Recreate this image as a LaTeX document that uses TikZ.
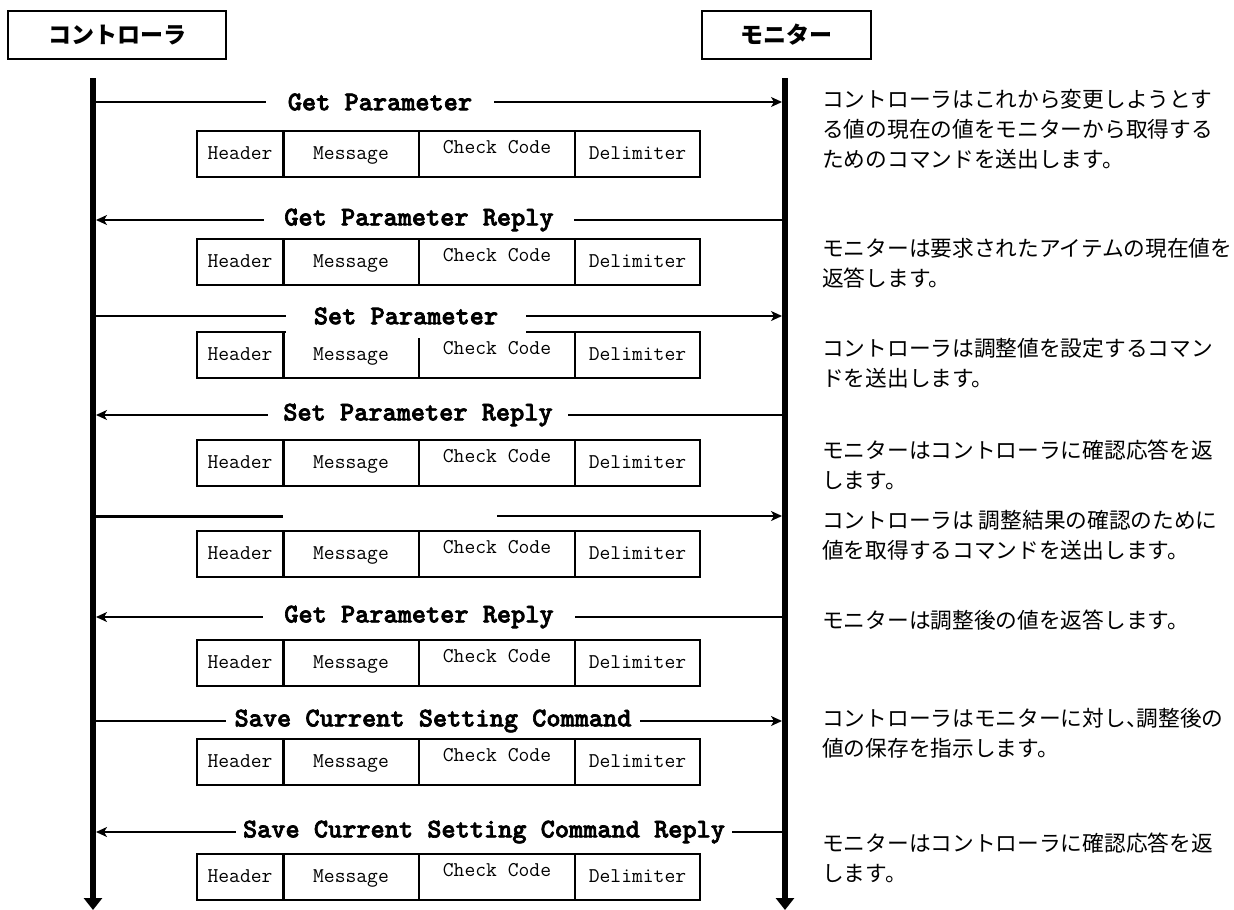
\documentclass[tikz,border=0pt]{standalone}
\usepackage{fontspec}
\newfontfamily\jpfont{Noto Sans CJK JP}
\newfontfamily\lblfont{lmmonolt10-bold.otf}[FakeBold=2.5]
\usetikzlibrary{arrows.meta}
\begin{document}
\begin{tikzpicture}[x=1pt,y=-1pt,
  actorbox/.style={draw,line width=1.5pt,minimum height=48pt,inner sep=0pt,
    font=\jpfont\bfseries\fontsize{23}{26}\selectfont},
  life/.style={line width=6pt,-{Triangle[length=12pt,width=18pt]}},
  msg/.style={line width=1.5pt,-{Stealth[length=11pt,width=10pt,inset=3pt]}},
  msgplain/.style={line width=1.5pt},
  msgthick/.style={line width=3pt},
  lbl/.style={fill=white,inner ysep=3pt,font=\lblfont\fontsize{27}{30}\selectfont},
  cell/.style={draw,line width=1.5pt,minimum height=46pt,inner sep=0pt,text height=14pt,text depth=4pt,
    font=\ttfamily\fontsize{21}{24}\selectfont},
  desc/.style={anchor=north west,inner sep=0pt,align=left,
    font=\jpfont\fontsize{21.7}{30}\selectfont}
]
\useasboundingbox (0,0) rectangle (1234,910);

% actors
\node[actorbox,minimum width=218pt] (ctl) at (117,35) {コントローラ};
\node[actorbox,minimum width=169pt] (mon) at (786.5,35) {モニター};

% lifelines
\coordinate (ctltop) at (93,78);
\coordinate (ctlbot) at (93,910);
\coordinate (montop) at (785,78);
\coordinate (monbot) at (785,910);
\draw[life] (ctltop) -- (ctlbot);
\draw[life] (montop) -- (monbot);

% packet boxes
\foreach \n/\t in {1/131,2/239,3/332,4/440,5/531,6/640,7/739,8/854}{
  \node[cell,minimum width=86pt]  (hd\n) at (240,\t+23) {Header};
  \node[cell,minimum width=136pt] (ms\n) at (351,\t+23) {Message};
  \node[cell,minimum width=156pt] (cc\n) at (497,\t+23) {\raisebox{6pt}{Check Code}};
  \node[cell,minimum width=125pt] (dl\n) at (637.5,\t+23) {Delimiter};
  \draw[line width=3pt] (hd\n.north east) -- (hd\n.south east);
}

% message endpoints on lifelines
\foreach \n/\y in {1/102,2/220,3/316,4/415,5/516,6/617,7/721,8/832}{
  \coordinate (L\n) at (96,\y);
  \coordinate (R\n) at (782,\y);
}

% 1 Get Parameter
\draw[msg] (L1) -- (R1);
\node[lbl,inner xsep=22pt] (t1) at (380,102) {Get Parameter};
% 2 Get Parameter Reply
\draw[msg] (R2) -- (L2);
\node[lbl,inner xsep=20pt] (t2) at (419,220) {Get Parameter Reply};
% 3 Set Parameter
\draw[msg] (L3) -- (R3);
\node[lbl,inner xsep=28pt,minimum height=44pt] (t3) at (406,316) {Set Parameter};
% 4 Set Parameter Reply
\draw[msg] (R4) -- (L4);
\node[lbl,inner xsep=15pt] (t4) at (418,415) {Set Parameter Reply};
% 5 (no label)
\coordinate (g5a) at (283,516);
\coordinate (g5b) at (497,516);
\draw[msgthick] (L5) -- (g5a);
\draw[msg] (g5b) -- (R5);
% 6 Get Parameter Reply
\draw[msg] (R6) -- (L6);
\node[lbl,inner xsep=21pt] (t6) at (419,617) {Get Parameter Reply};
% 7 Save Current Setting Command
\draw[msg] (L7) -- (R7);
\node[lbl,inner xsep=9pt] (t7) at (433,721) {Save Current Setting Command};
% 8 Save Current Setting Command Reply
\draw[msg] (R8) -- (L8);
\node[lbl,inner xsep=7pt] (t8) at (484,832) {Save Current Setting Command Reply};

% descriptions
\node[desc] (d1) at (822,89) {コントローラはこれから変更しようとす\\る値の現在の値をモニターから取得する\\ためのコマンドを送出します。};
\node[desc] (d2) at (822,238) {モニターは要求されたアイテムの現在値を\\返答します。};
\node[desc] (d3) at (822,338) {コントローラは調整値を設定するコマン\\ドを送出します。};
\node[desc] (d4) at (822,440) {モニターはコントローラに確認応答を返\\します。};
\node[desc] (d5) at (822,510) {コントローラは 調整結果の確認のために\\値を取得するコマンドを送出します。};
\node[desc] (d6) at (822,610) {モニターは調整後の値を返答します。};
\node[desc] (d7) at (822,708) {コントローラはモニターに対し、\kern-0.5em調整後の\\値の保存を指示します。};
\node[desc] (d8) at (822,833) {モニターはコントローラに確認応答を返\\します。};
\end{tikzpicture}
\end{document}
